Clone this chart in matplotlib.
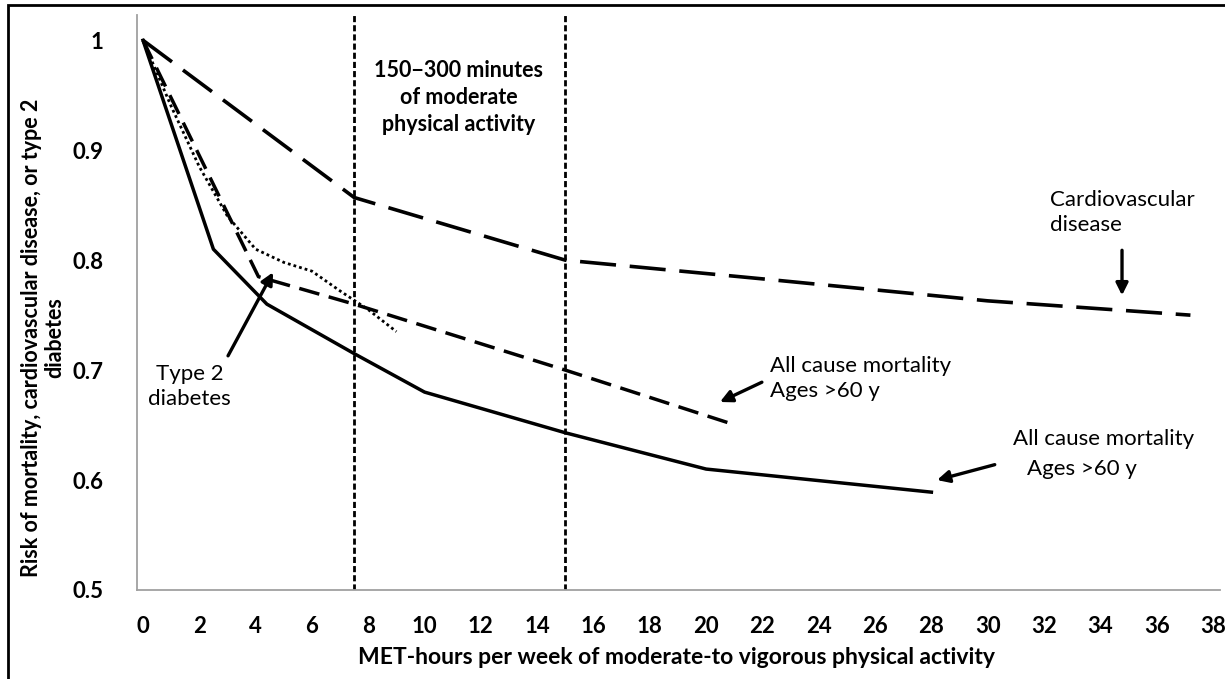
import matplotlib
matplotlib.use("Agg")
import matplotlib.pyplot as plt
from matplotlib.patches import Rectangle

# ==========================
# DATA
# ==========================

x_cvd = [0, 7.5, 15, 22, 30, 37.2]
y_cvd = [1.0, 0.857, 0.80, 0.783, 0.763, 0.75]

x_all = [0, 2.5, 4.4, 7.5, 10, 15, 20, 28]
y_all = [1.0, 0.81, 0.76, 0.715, 0.68, 0.643, 0.61, 0.589]

x_old = [0, 4.1, 7.5, 10, 15, 20.8]
y_old = [1.0, 0.785, 0.76, 0.74, 0.70, 0.652]

x_t2d = [0, 1, 2, 3, 4, 5, 6, 7, 8, 9]
y_t2d = [1.0, 0.94, 0.885, 0.84, 0.81, 0.798, 0.79, 0.772, 0.755, 0.735]

guideline_x = [7.5, 15]

x_ticks = list(range(0, 39, 2))
y_ticks = [0.5, 0.6, 0.7, 0.8, 0.9, 1.0]
y_tick_labels = ["0.5", "0.6", "0.7", "0.8", "0.9", "1"]

# ==========================
# FIGURE
# ==========================

plt.rcParams["font.family"] = ["Lato", "DejaVu Sans"]

fig = plt.figure(figsize=(12.25, 6.79), dpi=100)
ax = fig.add_axes([137 / 1225, 89 / 679, (1220 - 137) / 1225, (590 - 15) / 679])

ax.plot(x_cvd, y_cvd, color="black", lw=2.6, dashes=(10, 3.8))
ax.plot(x_all, y_all, color="black", lw=2.5)
ax.plot(x_old, y_old, color="black", lw=2.5, dashes=(6, 2.8))
ax.plot(x_t2d, y_t2d, color="black", lw=2.0, linestyle=(0, (1, 1.1)))

for gx in guideline_x:
    ax.axvline(gx, color="black", lw=2.0, dashes=(2.2, 1.1))

ax.set_xlim(-0.213, 38.25)
ax.set_ylim(0.5, 1.023)

ax.set_xticks(x_ticks)
ax.set_yticks(y_ticks)
ax.set_yticklabels(y_tick_labels)
ax.tick_params(length=0, labelsize=16)
ax.tick_params(axis="y", pad=24)
ax.tick_params(axis="x", pad=19)
for lab in ax.get_xticklabels() + ax.get_yticklabels():
    lab.set_fontweight("bold")

for side in ["top", "right"]:
    ax.spines[side].set_visible(False)
for side in ["left", "bottom"]:
    ax.spines[side].set_color("#a0a0a0")
    ax.spines[side].set_linewidth(1.3)

# ==========================
# LABELS
# ==========================

fig.text(43 / 1225, 1 - 338 / 679,
         "Risk of mortality, cardiovascular disease, or type 2\ndiabetes",
         rotation=90, ha="center", va="center", multialignment="center",
         fontsize=15.5, fontweight="bold", linespacing=1.15)

fig.text(677 / 1225, 1 - 657 / 679,
         "MET-hours per week of moderate-to vigorous physical activity",
         ha="center", va="center", fontsize=16.5, fontweight="bold")

ax.text(11.2, 0.982, "150\u2212300 minutes\nof moderate\nphysical activity",
        ha="center", va="top", multialignment="center",
        fontsize=15.5, fontweight="bold", linespacing=1.35)

arrow = dict(arrowstyle="-|>", color="black", lw=2.4, mutation_scale=18,
             shrinkA=0, shrinkB=0)

ax.text(32.2, 0.864, "Cardiovascular\ndisease", ha="left", va="top",
        fontsize=16, linespacing=1.3)
ax.annotate("", xy=(34.77, 0.768), xytext=(34.77, 0.809), arrowprops=arrow)

ax.text(22.27, 0.713, "All cause mortality\nAges >60 y", ha="left", va="top",
        fontsize=16, linespacing=1.3)
ax.annotate("", xy=(20.49, 0.671), xytext=(21.98, 0.689), arrowprops=arrow)

ax.text(34.1, 0.637, "All cause mortality", ha="center", va="center", fontsize=16)
ax.text(33.35, 0.610, "Ages >60 y", ha="center", va="center", fontsize=16)
ax.annotate("", xy=(28.2, 0.600), xytext=(30.25, 0.614), arrowprops=arrow)

ax.text(1.65, 0.685, "Type 2\ndiabetes", ha="center", va="center",
        multialignment="center", fontsize=16, linespacing=1.3)
ax.annotate("", xy=(4.62, 0.789), xytext=(3.02, 0.713), arrowprops=arrow)

# frame around the whole picture
fig.patches.append(Rectangle((8 / 1225, -0.1), 1.2, 1.1 - 5 / 679,
                             transform=fig.transFigure, fill=False,
                             edgecolor="black", lw=2))

fig.savefig("out.png", dpi=100)
